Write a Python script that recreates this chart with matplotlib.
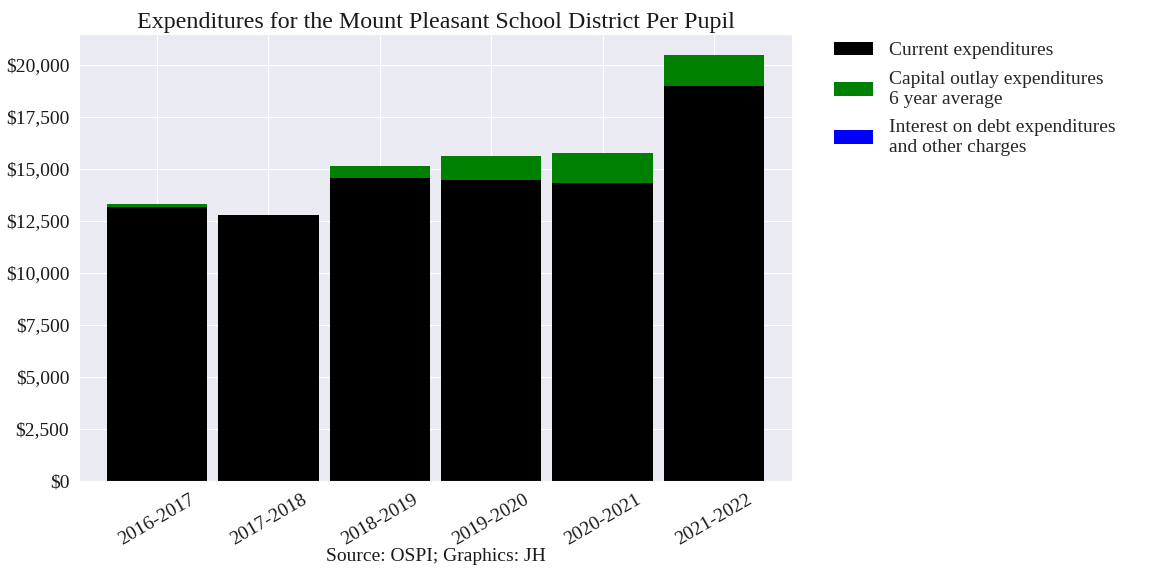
import matplotlib
matplotlib.use("Agg")
import matplotlib.pyplot as plt
import matplotlib.ticker as mticker
import pandas as pd
import seaborn as sns

years = ["2016-2017", "2017-2018", "2018-2019", "2019-2020", "2020-2021", "2021-2022"]
current = [13140, 12800, 14535, 14440, 14295, 18960]
capital = [145, 0, 575, 1150, 1440, 1490]
interest = [0, 0, 0, 0, 0, 0]

labels = ["Current expenditures",
          "Capital outlay expenditures\n6 year average",
          "Interest on debt expenditures\nand other charges"]
colors = ["black", "green", "blue"]

sns.set_style("darkgrid")
plt.rcParams["font.family"] = ["Liberation Serif", "DejaVu Serif"]

df = pd.DataFrame({labels[0]: current, labels[1]: capital, labels[2]: interest}, index=years)

fig, ax = plt.subplots(figsize=(11.52, 5.76), dpi=100)
fig.subplots_adjust(left=0.0686, right=0.6875, top=0.941, bottom=0.165)
df.plot.bar(stacked=True, width=0.9, color=colors, ax=ax, linewidth=0)

ax.yaxis.set_major_formatter(mticker.FuncFormatter(lambda v, p: f"${v:,.0f}"))
ax.tick_params(axis="both", labelsize=14, labelcolor="#1a1a1a")
plt.setp(ax.get_xticklabels(), rotation=30, ha="center")
ax.set_title("Expenditures for the Mount Pleasant School District Per Pupil", fontsize=17.3, color="#1a1a1a", pad=4)
ax.set_xlabel("Source: OSPI; Graphics: JH", fontsize=14, color="#1a1a1a", labelpad=0)
ax.legend(loc="upper left", bbox_to_anchor=(1.035, 1.022), fontsize=14, frameon=False,
          labelspacing=0.6, handletextpad=0.8)

fig.savefig("out.png", dpi=100)
